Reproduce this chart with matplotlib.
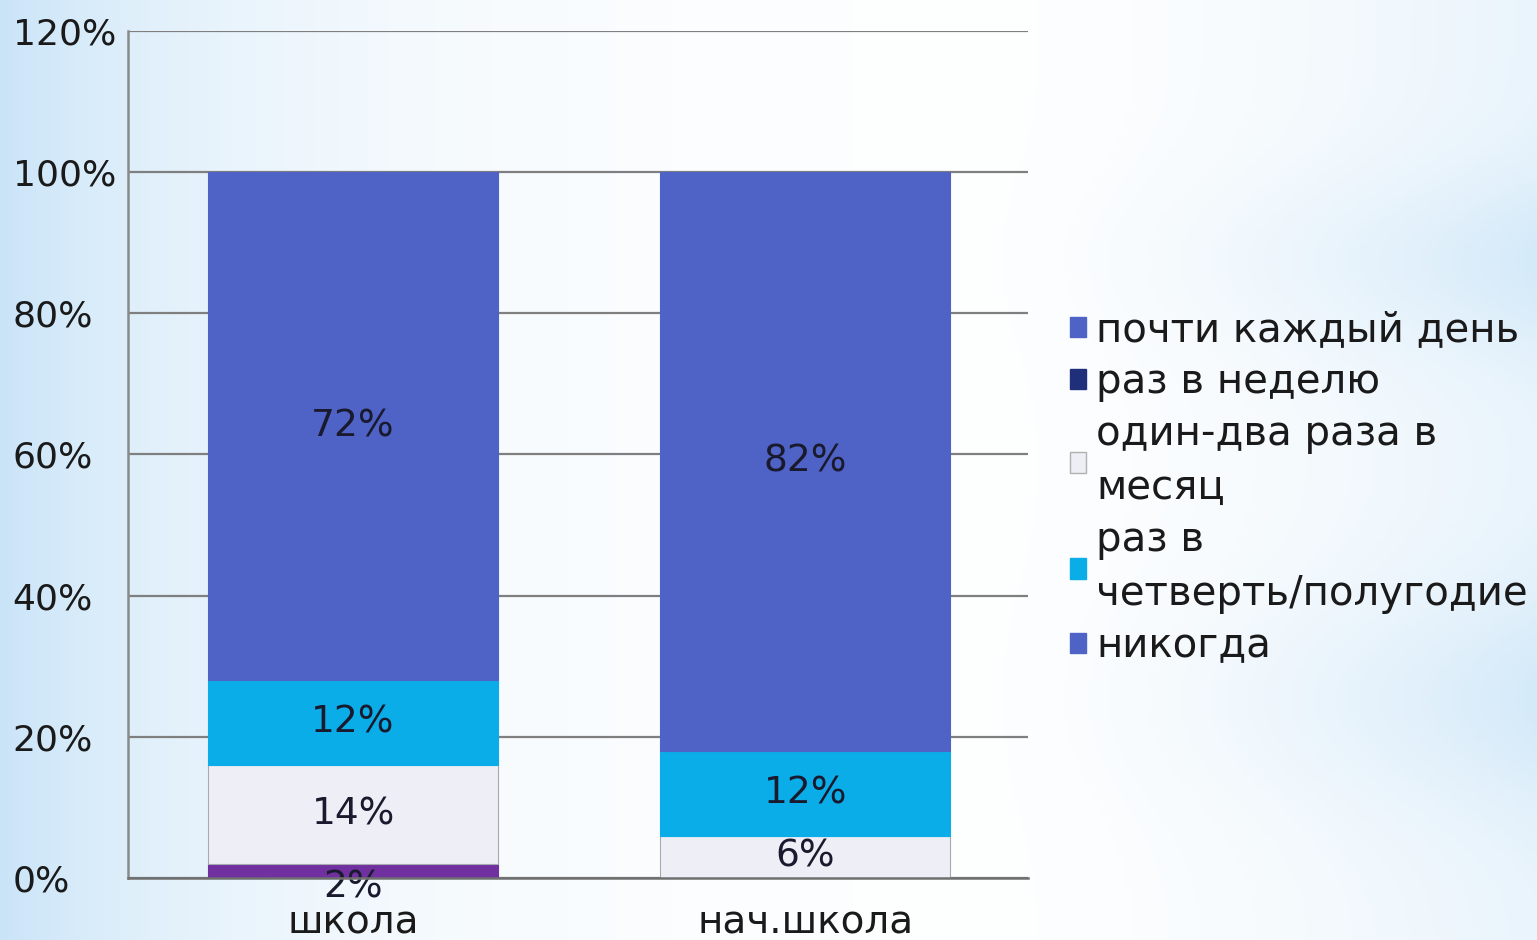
import matplotlib.pyplot as plt
import numpy as np
from matplotlib.patches import Patch

# ---- data ----
categories = ['школа', 'нач.школа']
seg_names = ['раз в неделю', 'один-два раза в месяц', 'раз в четверть/полугодие', 'почти каждый день']
seg_school = [2, 14, 12, 72]
seg_primary = [0, 6, 12, 82]
seg_colors = ['#7030A0', '#EEEEF7', '#0BADE8', '#4F63C6']

legend_labels = ['почти каждый день', 'раз в неделю', 'один-два раза в\nмесяц',
                 'раз в\nчетверть/полугодие', 'никогда']
legend_colors = ['#4F63C6', '#1F2F7A', '#EEEEF5', '#0BADE8', '#4F63C6']

yticks = [0, 20, 40, 60, 80, 100, 120]

fig = plt.figure(figsize=(15.37, 9.40), dpi=100)

# ---- background gradient ----
bg = fig.add_axes([0, 0, 1, 1], zorder=-1)
xx, yy = np.meshgrid(np.linspace(0, 1537, 400), np.linspace(0, 940, 250))
band = 0.5 + 0.5 * (np.exp(-((yy - 260) / 90) ** 2) + np.exp(-((yy - 700) / 110) ** 2))
w = 0.95 * np.exp(-xx / 260) + 0.75 * np.clip((xx - 950) / 587, 0, 1) ** 1.6 * band
w = np.clip(w, 0, 1)
blue = np.array([0.78, 0.89, 0.97])
img = (1 - w[..., None]) * np.ones(3) + w[..., None] * blue
bg.imshow(img, extent=[0, 1537, 940, 0], aspect='auto')
bg.axis('off')

# ---- chart ----
ax = fig.add_axes([128 / 1537, 1 - 878 / 940, 900 / 1537, (878 - 31) / 940])
ax.set_facecolor('none')
x = np.arange(len(categories))
bottoms = np.zeros(len(categories))
for i, name in enumerate(seg_names):
    vals = np.array([seg_school[i], seg_primary[i]], dtype=float)
    ec = '#a8a8b0' if i == 1 else seg_colors[i]
    ax.bar(x, vals, width=0.64, bottom=bottoms, color=seg_colors[i],
           edgecolor=ec, linewidth=0.8, zorder=3)
    for xi, v, b in zip(x, vals, bottoms):
        if v > 0:
            # small segments: label pushed a bit below the centre, as in the original
            dy = -12 if v < 4 else 0
            ax.annotate(f'{int(v)}%', (xi, b + v / 2), xytext=(0, dy),
                        textcoords='offset points', ha='center', va='center',
                        fontsize=27, color='#1a1a2e', zorder=4)
    bottoms += vals

ax.set_xlim(-0.498, 1.493)
ax.set_ylim(0, 120)
ax.set_yticks(yticks)
ax.set_yticklabels([f'{t}%' for t in yticks])
ax.set_xticks(x)
ax.set_xticklabels(categories)
ax.yaxis.grid(True, color='#7f7f7f', linewidth=1.6, zorder=0)
ax.set_axisbelow(True)
for s in ['top', 'right']:
    ax.spines[s].set_visible(False)
ax.spines['left'].set_color('#8a8a8a')
ax.spines['left'].set_linewidth(1.8)
ax.spines['bottom'].set_color('#6f6f6f')
ax.spines['bottom'].set_linewidth(1.8)
ax.spines['bottom'].set_zorder(5)
ax.tick_params(axis='y', length=0, pad=83, labelsize=26, labelcolor='#1a1a1a')
ax.tick_params(axis='x', length=0, pad=18, labelsize=28, labelcolor='#1a1a1a')
for lab in ax.get_yticklabels():
    lab.set_ha('left')

# ---- legend ----
handles = [Patch(facecolor=c, edgecolor='#b0b0b0' if c == '#EEEEF5' else c) for c in legend_colors]
leg = fig.legend(handles, legend_labels, loc='upper left',
                 bbox_to_anchor=(1050 / 1537, 1 - 290 / 940), frameon=False,
                 fontsize=29, handlelength=0.4, handleheight=0.4,
                 handletextpad=0.25, labelspacing=0.3, borderpad=0)
for t in leg.get_texts():
    t.set_linespacing(1.45)
    t.set_color('#1a1a1a')

fig.savefig('out.png', dpi=100)
